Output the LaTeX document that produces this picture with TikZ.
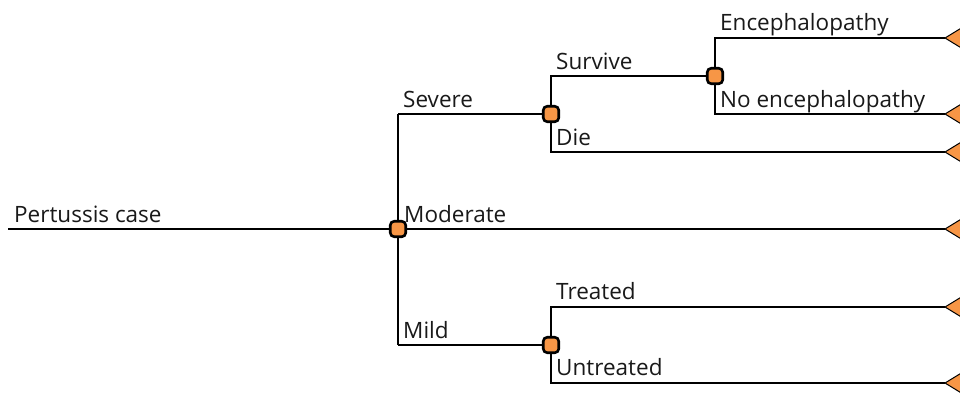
\documentclass[tikz,border=0pt]{standalone}
\usepackage{fontspec}
\setmainfont{Open Sans}
\begin{document}
\begin{tikzpicture}[x=1pt,y=-1pt,
  branch/.style={line width=1.8pt, black},
  chance/.style={draw=black, line width=2.6pt, fill=nodeorange, rounded corners=4pt, minimum size=15.5pt, inner sep=0pt},
  term/.style={draw=black, line width=1pt, fill=nodeorange},
  lbl/.style={anchor=base west, inner sep=0pt, font=\fontsize{22.5}{26}\selectfont, text=black!90}]
\definecolor{nodeorange}{HTML}{F79646}
\useasboundingbox (0,0) rectangle (960,402);
% coordinates
\coordinate (root) at (8,229);
\coordinate (e1) at (945,38);
\coordinate (e2) at (945,114);
\coordinate (e3) at (945,152);
\coordinate (e4) at (945,229);
\coordinate (e5) at (945,307);
\coordinate (e6) at (945,383);
\coordinate (sev) at (398,114);
\coordinate (mil) at (398,345);
\coordinate (sur) at (551,76);
\coordinate (die) at (551,152);
\coordinate (enc) at (715,38);
\coordinate (noe) at (715,114);
\coordinate (tre) at (551,307);
\coordinate (unt) at (551,383);
% branches
\draw[branch] (root) -- (398,229);
\draw[branch] (e4) -- (398,229);
\draw[branch] (e3) -- (die) -- (sur) -- (715,76);
\draw[branch] (sev) -- (mil);
\draw[branch] (sev) -- (551,114);
\draw[branch] (mil) -- (551,345);
\draw[branch] (e1) -- (enc) -- (noe) -- (e2);
\draw[branch] (e5) -- (tre) -- (unt) -- (e6);
% chance nodes
\node[chance] (c1) at (398,229) {};
\node[chance] (c2) at (551,114) {};
\node[chance] (c3) at (715,76) {};
\node[chance] (c4) at (551,345) {};
% terminal triangles
\foreach \e in {e1,e2,e3,e4,e5,e6}{
  \draw[term] (\e) -- ++(18,-11) -- ++(0,22) -- cycle;
}
% labels
\node[lbl] (l0) at (14,222) {Pertussis case};
\node[lbl] (l1) at (403,107) {Severe};
\node[lbl] (l2) at (404,222) {Moderate};
\node[lbl] (l3) at (403,338) {Mild};
\node[lbl] (l4) at (556,69) {Survive};
\node[lbl] (l5) at (556,145) {Die};
\node[lbl] (l6) at (720,30) {Encephalopathy};
\node[lbl] (l7) at (720,107) {No encephalopathy};
\node[lbl] (l8) at (556,299) {Treated};
\node[lbl] (l9) at (556,375) {Untreated};
\end{tikzpicture}
\end{document}
